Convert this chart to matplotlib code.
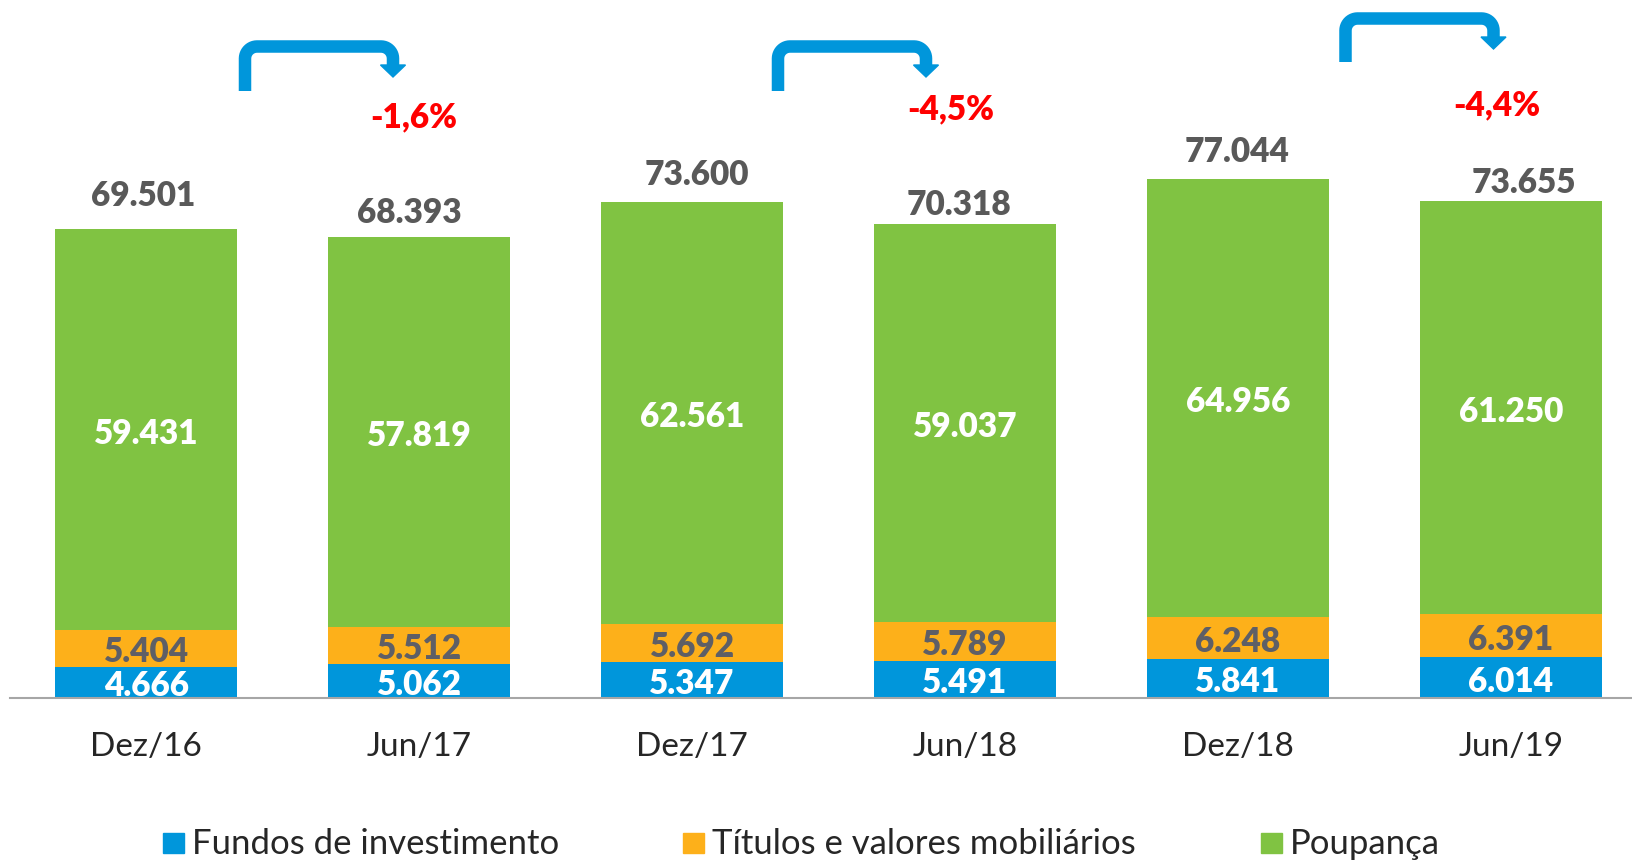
import matplotlib
matplotlib.use("Agg")
import matplotlib.pyplot as plt
from matplotlib.patches import Polygon, Rectangle
import numpy as np

plt.rcParams['font.family'] = ['Lato', 'DejaVu Sans']

# dados (R$ milhões)
periodos = ['Dez/16', 'Jun/17', 'Dez/17', 'Jun/18', 'Dez/18', 'Jun/19']
fundos = [4666, 5062, 5347, 5491, 5841, 6014]
titulos = [5404, 5512, 5692, 5789, 6248, 6391]
poupanca = [59431, 57819, 62561, 59037, 64956, 61250]
totais = [69501, 68393, 73600, 70318, 77044, 73655]
variacoes = ['-1,6%', '-4,5%', '-4,4%']
series_nomes = ['Fundos de investimento', 'Títulos e valores mobiliários', 'Poupança']

# cores
AZUL = '#0096DB'
LARANJA = '#FDB01A'
VERDE = '#80C342'
CINZA = '#595959'
PESO = 'heavy'

W, H = 1632, 860
fig = plt.figure(figsize=(W / 100, H / 100), dpi=100)
ax_left, ax_bottom = 10.4, 162
ax = fig.add_axes([ax_left / W, ax_bottom / H, 1 - ax_left / W, 1 - ax_bottom / H])

x = np.arange(len(periodos))
largura = 0.667
ax.bar(x, fundos, largura, color=AZUL)
ax.bar(x, titulos, largura, bottom=fundos, color=LARANJA)
base_poup = np.array(fundos) + np.array(titulos)
ax.bar(x, poupanca, largura, bottom=base_poup, color=VERDE)

ax.set_xlim(-0.497, 5.443)
ax.set_ylim(0, 698 / 0.0067412)
for s in ['top', 'right', 'left']:
    ax.spines[s].set_visible(False)
ax.spines['bottom'].set_color('#A6A6A6')
ax.spines['bottom'].set_linewidth(1.5)
ax.set_xticks([])
ax.set_yticks([])

fs = 24


def fmt(v):
    return f"{v:,}".replace(',', '.')


# rótulos dos segmentos
for i in range(len(periodos)):
    for val, meio, cor in [(fundos[i], fundos[i] / 2, 'white'),
                           (titulos[i], fundos[i] + titulos[i] / 2, '#5E5F66'),
                           (poupanca[i], base_poup[i] + poupanca[i] / 2, 'white')]:
        ax.annotate(fmt(val), xy=(x[i], meio), xytext=(0, -4), textcoords='offset pixels',
                    ha='center', va='center', color=cor, fontsize=fs, fontweight=PESO)

# totais (deslocamentos em pixels, como no original)
dx_tot = [-3, -10, 5, -6, -1, 13]
dy_tot = [33, 24, 27, 19, 27, 18]
for i in range(len(periodos)):
    ax.annotate(fmt(totais[i]), xy=(x[i], totais[i]),
                xytext=(dx_tot[i], dy_tot[i]), textcoords='offset pixels',
                ha='center', va='center', color=CINZA, fontsize=fs, fontweight=PESO,
                annotation_clip=False)

# rótulos do eixo x
for i in range(len(periodos)):
    ax.annotate(periodos[i], xy=(x[i], 0), xycoords=('data', 'axes fraction'),
                xytext=(0, -49), textcoords='offset pixels', ha='center', va='center',
                color='#262626', fontsize=fs, annotation_clip=False)


def px2data(px, py):
    # pixel da figura (origem no topo) -> dados
    return ax.transData.inverted().transform((px, H - py))


# setas curvas (pixels: esquerda, direita, base, topo, ponta)
setas = [(245, 393, 91, 46.5, 77), (778, 926, 91, 46.5, 77), (1345.5, 1493.5, 62, 18.5, 49)]
r = 12
for (L, R, B, T, tip) in setas:
    pts = [(L, B), (L, T + r)]
    for a in np.linspace(np.pi, np.pi / 2, 12):
        pts.append((L + r + r * np.cos(a), T + r - r * np.sin(a)))
    pts.append((R - r, T))
    for a in np.linspace(np.pi / 2, 0, 12):
        pts.append((R - r + r * np.cos(a), T + r - r * np.sin(a)))
    pts.append((R, tip - 11))
    d = np.array([px2data(px, py) for px, py in pts])
    ax.plot(d[:, 0], d[:, 1], color=AZUL, lw=12.5 * 0.72, solid_capstyle='butt',
            solid_joinstyle='round', clip_on=False)
    head = [px2data(R - 12.5, tip - 12), px2data(R + 12.5, tip - 12), px2data(R, tip)]
    ax.add_patch(Polygon(head, closed=True, color=AZUL, clip_on=False))

# variações percentuais
pos_var = [(414, 117), (951, 109), (1497, 105)]
for txt, (px, py) in zip(variacoes, pos_var):
    fig.text(px / W, 1 - py / H, txt, ha='center', va='center', color='#FF0000',
             fontsize=fs, fontweight=PESO)

# legenda
leg_cores = [AZUL, LARANJA, VERDE]
leg_x = [163, 683, 1261]
for nome, cor, lx in zip(series_nomes, leg_cores, leg_x):
    fig.patches.append(Rectangle((lx / W, (H - 853) / H), 21 / W, 20 / H, color=cor,
                                 transform=fig.transFigure, figure=fig))
    fig.text((lx + 29) / W, 1 - 844 / H, nome, ha='left', va='center', color='#262626',
             fontsize=25)

fig.savefig('out.png', dpi=100)
